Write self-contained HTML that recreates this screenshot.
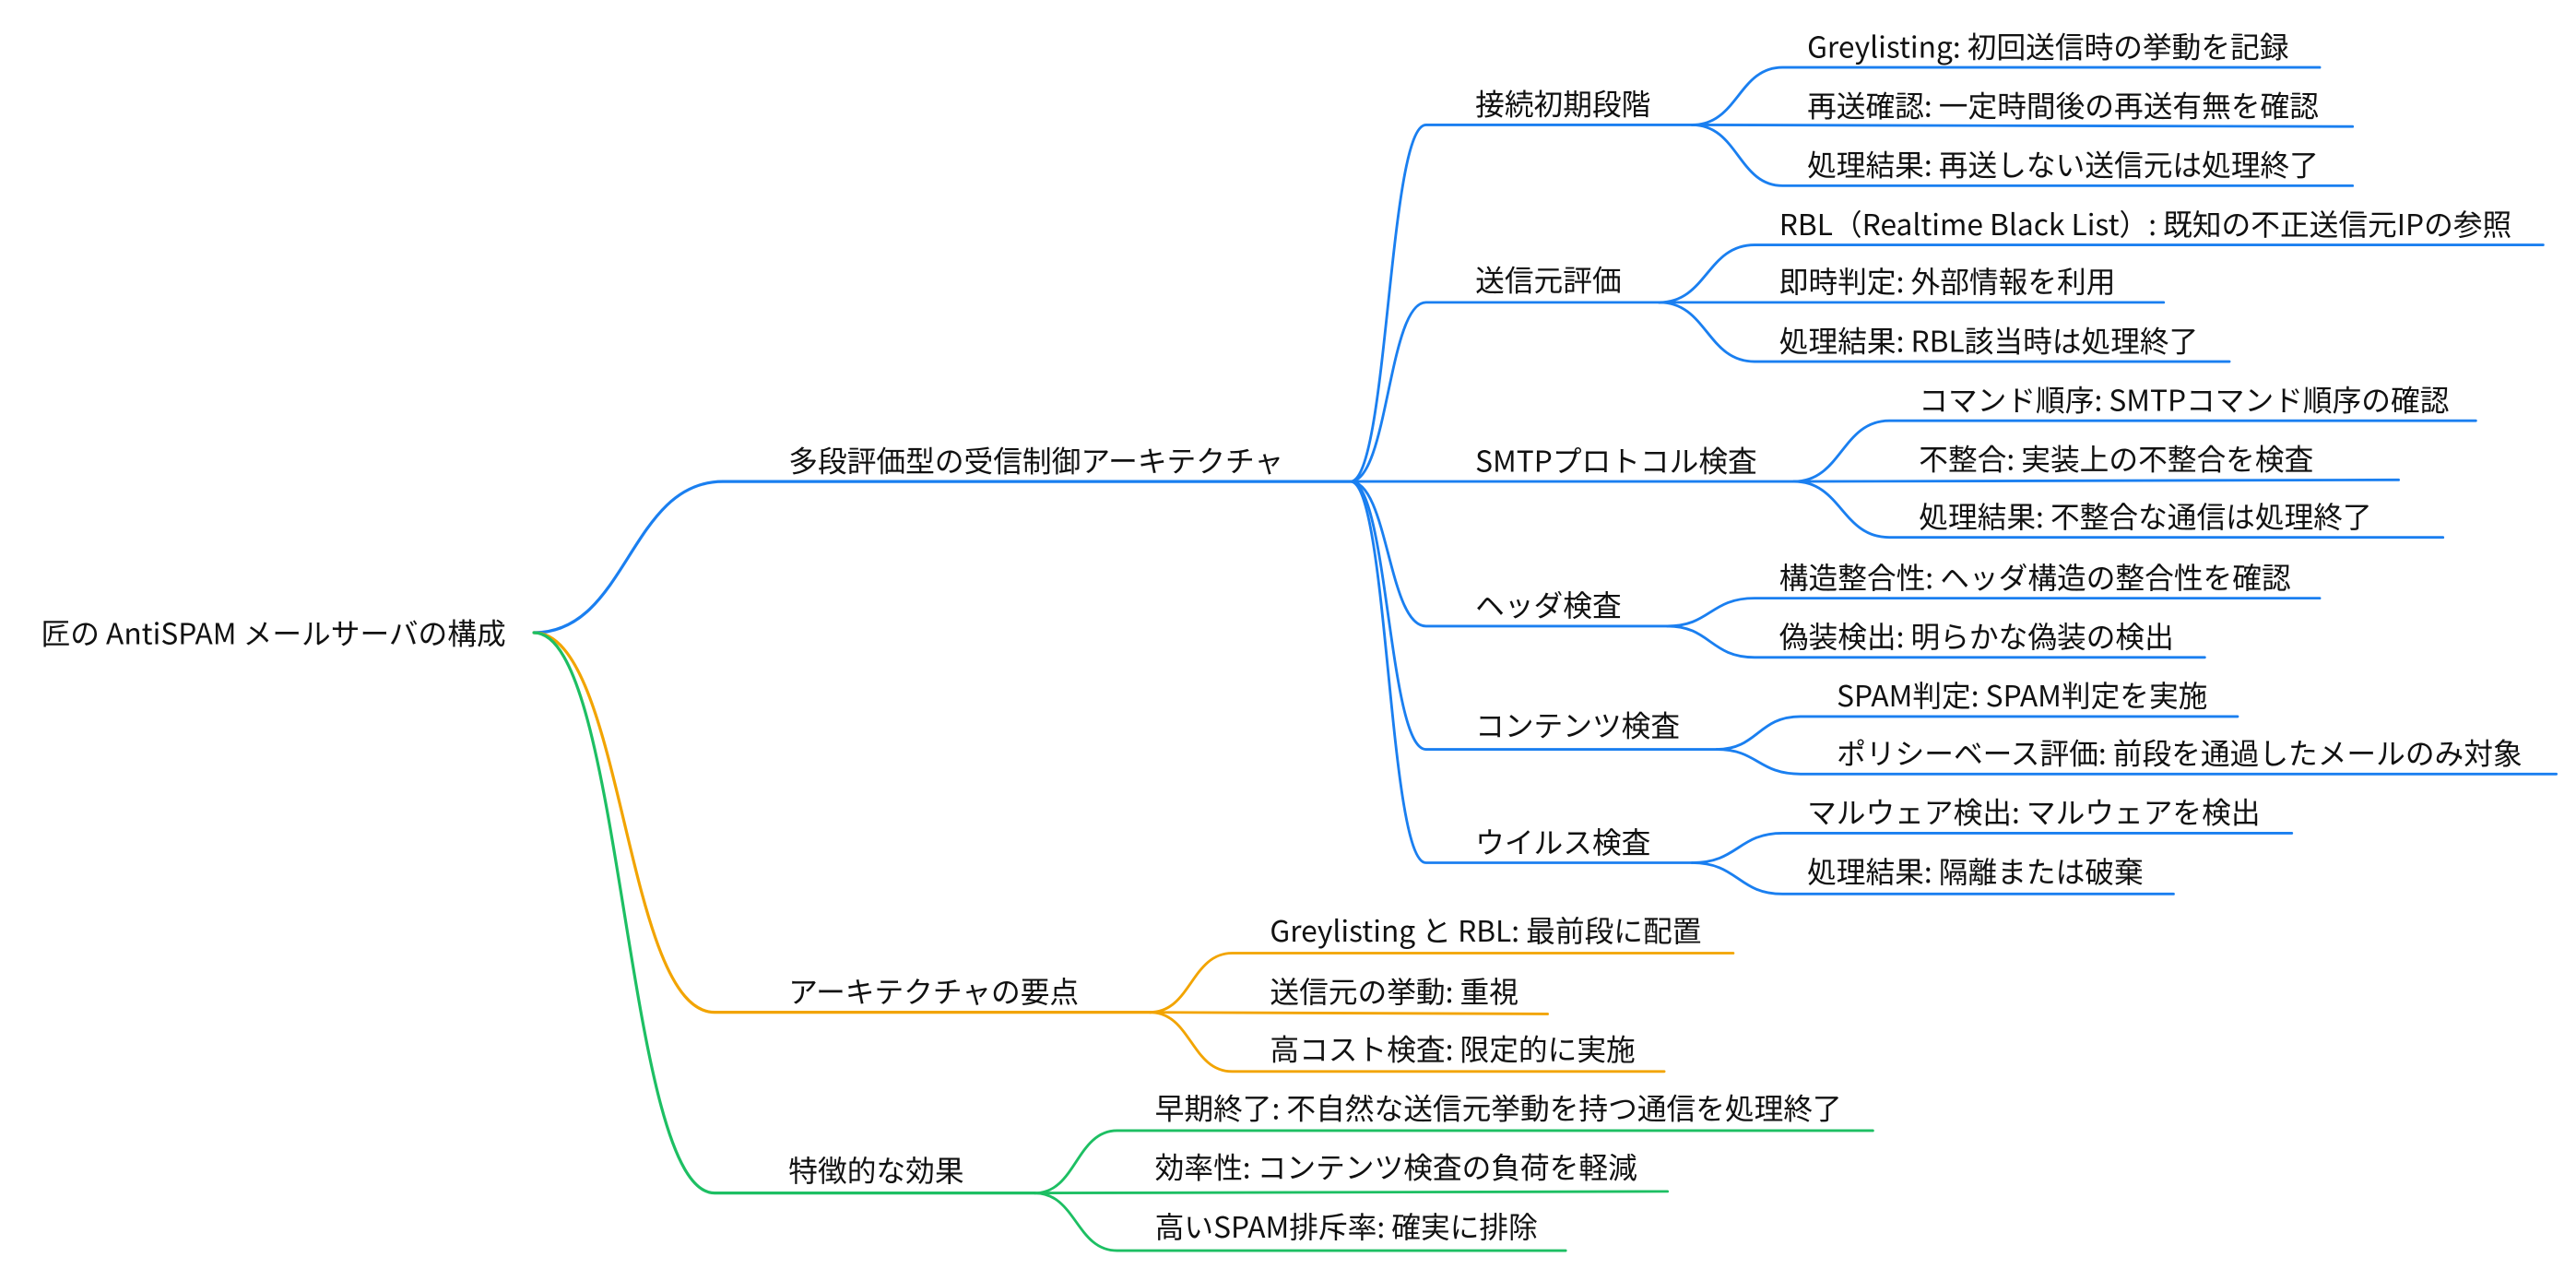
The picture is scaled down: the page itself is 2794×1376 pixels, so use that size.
<!DOCTYPE html>
<html><head><meta charset="utf-8"><style>
html,body{margin:0;padding:0;background:#fff;}
svg{display:block;}
text{font-family:"Noto Sans CJK JP","Liberation Sans",sans-serif;font-size:17.8px;fill:#111;}
path{fill:none;stroke-linecap:round;}
.b{stroke:#1a7ff0;}.o{stroke:#f2a400;}.g{stroke:#1dbf63;}
</style></head><body>
<svg width="2794" height="1376" viewBox="0 0 1568 772.2" xmlns="http://www.w3.org/2000/svg">
<text x="25" y="392">匠の AntiSPAM メールサーバの構成</text>

<path class="b" stroke-width="1.8" d="M325 385 C382 385,383 293,440 293 L822 293"/>
<path class="o" stroke-width="1.8" d="M325 385 C380 385,380 616,435 616 L700 616"/>
<path class="g" stroke-width="1.8" d="M325 385 C380 385,380 726,435 726 L630 726"/>
<text x="480" y="287">多段評価型の受信制御アーキテクチャ</text>
<text x="480" y="610">アーキテクチャの要点</text>
<text x="480" y="719">特徴的な効果</text>

<g class="b" stroke-width="1.6">
<path d="M822 293 C845 293,845 76,868 76 L1030 76"/>
<path d="M822 293 C845 293,845 184,868 184 L1010 184"/>
<path d="M822 293 L1092 293"/>
<path d="M822 293 C845 293,845 381,868 381 L1015 381"/>
<path d="M822 293 C845 293,845 456,868 456 L1045 456"/>
<path d="M822 293 C845 293,845 525,868 525 L1030 525"/>
</g>
<text x="898" y="70">接続初期段階</text>
<text x="898" y="177">送信元評価</text>
<text x="898" y="287">SMTPプロトコル検査</text>
<text x="898" y="375">ヘッダ検査</text>
<text x="898" y="448">コンテンツ検査</text>
<text x="898" y="519">ウイルス検査</text>

<g class="b" stroke-width="1.6">
<path d="M1030 76 C1058 76,1058 41,1085 41 L1412 41"/>
<path d="M1030 76 L1432 77"/>
<path d="M1030 76 C1058 76,1058 113,1085 113 L1432 113"/>
<path d="M1010 184 C1039 184,1039 149,1068 149 L1548 149"/>
<path d="M1010 184 L1317 184"/>
<path d="M1010 184 C1039 184,1039 220,1068 220 L1357 220"/>
<path d="M1092 293 C1121 293,1121 256,1150 256 L1507 256"/>
<path d="M1092 293 L1460 292"/>
<path d="M1092 293 C1121 293,1121 327,1150 327 L1487 327"/>
<path d="M1015 381 C1041 381,1041 364,1068 364 L1412 364"/>
<path d="M1015 381 C1041 381,1041 400,1068 400 L1342 400"/>
<path d="M1045 456 C1070 456,1070 436,1096 436 L1362 436"/>
<path d="M1045 456 C1070 456,1070 471,1096 471 L1556 471"/>
<path d="M1030 525 C1058 525,1058 507,1085 507 L1395 507"/>
<path d="M1030 525 C1058 525,1058 544,1085 544 L1323 544"/>
</g>
<text x="1100" y="35">Greylisting: 初回送信時の挙動を記録</text>
<text x="1100" y="71">再送確認: 一定時間後の再送有無を確認</text>
<text x="1100" y="107">処理結果: 再送しない送信元は処理終了</text>
<text x="1083" y="143">RBL（Realtime Black List）: 既知の不正送信元IPの参照</text>
<text x="1083" y="178">即時判定: 外部情報を利用</text>
<text x="1083" y="214">処理結果: RBL該当時は処理終了</text>
<text x="1168" y="250">コマンド順序: SMTPコマンド順序の確認</text>
<text x="1168" y="286">不整合: 実装上の不整合を検査</text>
<text x="1168" y="321">処理結果: 不整合な通信は処理終了</text>
<text x="1083" y="358">構造整合性: ヘッダ構造の整合性を確認</text>
<text x="1083" y="394">偽装検出: 明らかな偽装の検出</text>
<text x="1118" y="430">SPAM判定: SPAM判定を実施</text>
<text x="1118" y="465">ポリシーベース評価: 前段を通過したメールのみ対象</text>
<text x="1100" y="501">マルウェア検出: マルウェアを検出</text>
<text x="1100" y="537">処理結果: 隔離または破棄</text>

<g class="o" stroke-width="1.6">
<path d="M700 616 C725 616,725 580,750 580 L1055 580"/>
<path d="M700 616 L942 617"/>
<path d="M700 616 C725 616,725 652,750 652 L1013 652"/>
</g>
<text x="773" y="573">Greylisting と RBL: 最前段に配置</text>
<text x="773" y="610">送信元の挙動: 重視</text>
<text x="773" y="645">高コスト検査: 限定的に実施</text>

<g class="g" stroke-width="1.6">
<path d="M630 726 C655 726,655 688,680 688 L1140 688"/>
<path d="M630 726 L1015 725"/>
<path d="M630 726 C655 726,655 761,680 761 L953 761"/>
</g>
<text x="703" y="681">早期終了: 不自然な送信元挙動を持つ通信を処理終了</text>
<text x="703" y="717">効率性: コンテンツ検査の負荷を軽減</text>
<text x="703" y="753">高いSPAM排斥率: 確実に排除</text>
</svg>
</body></html>
